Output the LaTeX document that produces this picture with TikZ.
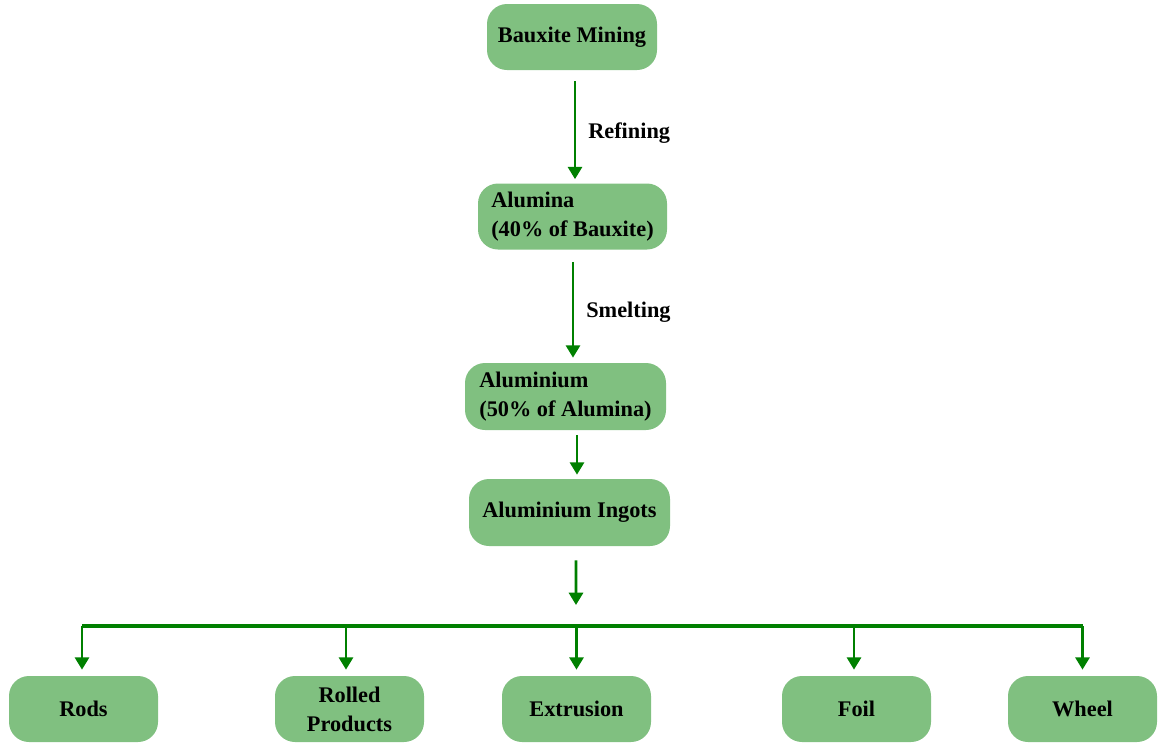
\documentclass[tikz,border=0pt]{standalone}
\usepackage{fontspec}
\setmainfont{Liberation Serif}
\usetikzlibrary{arrows.meta}
\definecolor{boxgreen}{RGB}{128,192,128}
\definecolor{linegreen}{RGB}{0,128,0}
\begin{document}
\begin{tikzpicture}[
		box/.style={fill=boxgreen, draw=none, rounded corners=0.4cm, minimum height=1.32cm, align=left, font=\fontsize{12.7}{16.5}\selectfont\bfseries},
		flow/.style={draw=linegreen, line width=1.6pt, -{Triangle[width=8pt,length=7pt]}},
		busline/.style={draw=linegreen, line width=2.6pt},
		step label/.style={midway, right=0.12cm, yshift=-0.12cm, font=\fontsize{12.7}{15}\selectfont\bfseries}
	]
		
		\useasboundingbox (0,0) rectangle (23.2,-14.86);
		
		\node[box, minimum width=3.4cm] (bauxite) at (11.44,-0.74) {Bauxite Mining};
		\node[box, minimum width=3.78cm] (alumina) at (11.45,-4.33) {Alumina\\(40\% of Bauxite)};
		\node[box, minimum width=4.02cm, minimum height=1.34cm] (aluminium) at (11.31,-7.93) {Aluminium\\(50\% of Alumina)};
		\node[box, minimum width=4.02cm, minimum height=1.34cm] (ingots) at (11.39,-10.25) {Aluminium Ingots};
		
		\node[box, minimum width=2.98cm] (rods) at (1.67,-14.18) {Rods};
		\node[box, minimum width=2.98cm, align=center] (rolled) at (6.99,-14.18) {Rolled\\Products};
		\node[box, minimum width=2.98cm] (extrusion) at (11.53,-14.18) {Extrusion};
		\node[box, minimum width=2.98cm] (foil) at (17.13,-14.18) {Foil};
		\node[box, minimum width=2.98cm] (wheel) at (21.65,-14.18) {Wheel};
		
		\coordinate (spine) at (11.5,0);
		\coordinate (fork) at (11.52,-12.1);
		\coordinate (bus) at (0,-12.52);
		
		\draw[flow, shorten <=0.22cm, shorten >=0.08cm] (spine |- bauxite.south) -- (spine |- alumina.north)
			node[step label] (refining) {Refining};
		\draw[flow, shorten <=0.24cm, shorten >=0.1cm] ([xshift=-0.04cm]spine |- alumina.south) -- ([xshift=-0.04cm]spine |- aluminium.north)
			node[step label] (smelting) {Smelting};
		\draw[flow, shorten <=0.1cm, shorten >=0.08cm] ([xshift=0.04cm]spine |- aluminium.south) -- ([xshift=0.04cm]spine |- ingots.north);
		\draw[flow, shorten <=0.28cm] ([xshift=0.02cm]spine |- ingots.south) -- (fork);
		
		\draw[busline] ([xshift=-0.03cm]rods.north |- bus) -- ([xshift=0.01cm]wheel.north |- bus);
		\draw[flow] ([xshift=-0.03cm]rods.north |- bus) -- ([xshift=-0.03cm,yshift=0.12cm]rods.north);
		\draw[flow] ([xshift=-0.07cm]rolled.north |- bus) -- ([xshift=-0.07cm,yshift=0.12cm]rolled.north);
		\draw[flow] (extrusion.north |- bus) -- ([yshift=0.12cm]extrusion.north);
		\draw[flow] ([xshift=-0.05cm]foil.north |- bus) -- ([xshift=-0.05cm,yshift=0.12cm]foil.north);
		\draw[flow] (wheel.north |- bus) -- ([yshift=0.12cm]wheel.north);
		
	\end{tikzpicture}
\end{document}
